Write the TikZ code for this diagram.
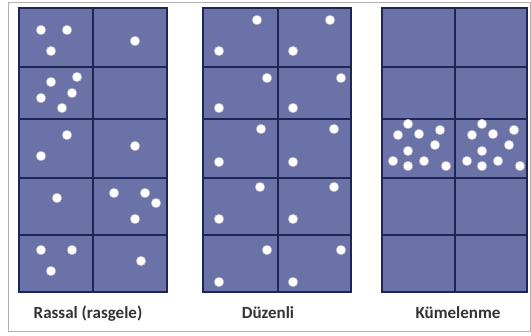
\documentclass[tikz,border=0pt]{standalone}
\usepackage{fontspec}
\setmainfont{Carlito}
\usetikzlibrary{positioning}
\definecolor{cellblue}{RGB}{106,114,168}
\definecolor{gridnavy}{RGB}{30,38,86}
\definecolor{framegray}{RGB}{175,175,175}
\definecolor{labgray}{RGB}{51,51,51}

\begin{document}
\begin{tikzpicture}[x=1pt,y=-1pt,
    cell/.style={fill=cellblue},
    grid/.style={draw=gridnavy,line width=1.2pt},
    dot/.style={fill=white,draw=gridnavy!35,line width=0.5pt},
    lab/.style={font=\fontsize{17}{20}\selectfont\bfseries,text=labgray,anchor=base}]
  \useasboundingbox (0,0) rectangle (531,336);
  \draw[framegray,line width=0.8pt] (8,2) rectangle (530,331);
  % three panels: left, middle, right edges
  \foreach \l/\m/\r in {19/93/167,203/278/351,382/455/527}{
    \fill[cell] (\l,8) rectangle (\r,292);
    \foreach \y in {67,119,178,235}
      \draw[grid] (\l,\y) -- (\r,\y);
    \draw[grid] (\m,8) -- (\m,292);
    \draw[grid] (\l,8) rectangle (\r,292);
  }
  % random pattern
  \foreach \x/\y in {41/30,67/30,51/51,135/41,
      51/82,77/77,41/98,72/93,62/108,
      67/135,41/156,135/146,
      57/198,114/193,145/193,156/203,135/219,
      41/250,72/250,51/271,141/261}
    \filldraw[dot] (\x,\y) circle (4.8);
  % regular pattern
  \foreach \x/\y in {257/20,330/20,219/51,293/51,
      267/78,341/78,219/108,293/108,
      261/129,334/129,219/162,293/162,
      260/187,334/187,219/219,293/219,
      267/250,341/250,219/282,293/282}
    \filldraw[dot] (\x,\y) circle (4.8);
  % clustered pattern
  \foreach \dx in {0,74}
    \foreach \x/\y in {408/124,398/135,419/134,440/130,435/145,
        408/151,393/161,408/166,424/161,446/166}
      \filldraw[dot] (\x+\dx,\y) circle (4.8);
  \node[lab] (rassal) at (88,318.5) {Rassal (rasgele)};
  \node[lab] (duzenli) at (268,318.5) {Düzenli};
  \node[lab] (kumelenme) at (458,318.5) {Kümelenme};
\end{tikzpicture}
\end{document}
